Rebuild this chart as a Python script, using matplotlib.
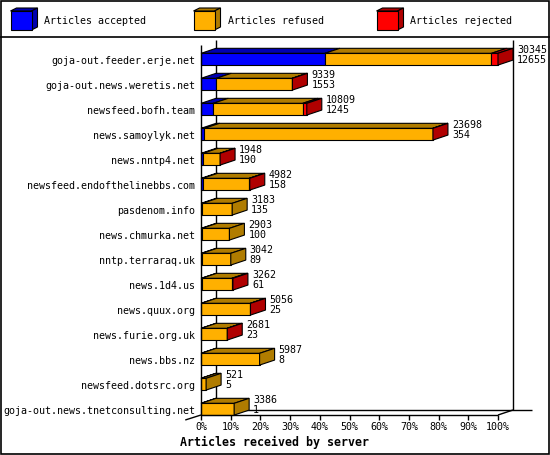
import numpy as np
import matplotlib.pyplot as plt
from matplotlib.patches import Polygon, Rectangle

# Articles per server
servers = ['goja-out.feeder.erje.net', 'goja-out.news.weretis.net', 'newsfeed.bofh.team',
           'news.samoylyk.net', 'news.nntp4.net', 'newsfeed.endofthelinebbs.com',
           'pasdenom.info', 'news.chmurka.net', 'nntp.terraraq.uk', 'news.1d4.us',
           'news.quux.org', 'news.furie.org.uk', 'news.bbs.nz', 'newsfeed.dotsrc.org',
           'goja-out.news.tnetconsulting.net']
offered = np.array([30345, 9339, 10809, 23698, 1948, 4982, 3183, 2903, 3042, 3262,
                    5056, 2681, 5987, 521, 3386])
accepted = np.array([12655, 1553, 1245, 354, 190, 158, 135, 100, 89, 61, 25, 23, 8, 5, 1])
rejected = np.array([670, 30, 410, 20, 10, 60, 0, 0, 0, 120, 15, 10, 0, 0, 0])
refused = offered - accepted - rejected

legend_labels = ['Articles accepted', 'Articles refused', 'Articles rejected']
colors = ['#0000ff', '#ffb000', '#ff0000']
darks = ['#0000b0', '#b07c00', '#b00000']
ticks = np.arange(0, 101, 10)

W, H = 550, 455
fig = plt.figure(figsize=(W / 100, H / 100), dpi=100)
font = 'DejaVu Sans Mono'
fs = 7.2

# pixel overlay for frame and legend
pax = fig.add_axes([0, 0, 1, 1])
pax.set_xlim(0, W)
pax.set_ylim(H, 0)
pax.axis('off')
pax.add_patch(Rectangle((0.5, 0.5), 548, 453, fill=False, ec='black', lw=1.2))
pax.plot([0.5, 548.5], [36.5, 36.5], color='black', lw=1.2)
for k, (lab, c, d) in enumerate(zip(legend_labels, colors, darks)):
    x0 = 10.5 + k * 183
    y0, bw, bh, ddx, ddy = 11, 21, 19, 6, 3
    pax.add_patch(Polygon([(x0, y0), (x0 + bw, y0), (x0 + bw + ddx, y0 - ddy), (x0 + ddx, y0 - ddy)],
                          fc=d, ec='black', lw=0.8))
    pax.add_patch(Polygon([(x0 + bw, y0), (x0 + bw + ddx, y0 - ddy), (x0 + bw + ddx, y0 + bh - ddy),
                           (x0 + bw, y0 + bh)], fc=d, ec='black', lw=0.8))
    pax.add_patch(Rectangle((x0, y0), bw, bh, fc=c, ec='black', lw=0.8))
    pax.text(x0 + 34, 20.5, lab, family=font, fontsize=fs, va='center', ha='left')
pax.text(275, 442, 'Articles received by server', family=font, fontsize=8.4,
         fontweight='bold', ha='center', va='center')

# main chart axes, x in percent of the biggest server
ax = fig.add_axes([201 / W, (H - 415) / H, 297 / W, 370 / H])
ax.set_xlim(0, 100)
ax.set_ylim(14.232, -0.568)
ax.axis('off')

dx = 15 / 297 * 100
dy = -0.2
h = 0.47
ybot = 14.232
lk = dict(color='black', lw=1, clip_on=False, solid_capstyle='butt')

# back wall and floor
ax.plot([dx, dx], [-0.568 + dy, ybot + dy], zorder=1, **lk)
ax.plot([100 + dx, 100 + dx], [-0.568 + dy, ybot + dy], zorder=1, **lk)
ax.plot([dx, 111.3], [ybot + dy, ybot + dy], zorder=1, **lk)
# front axes
ax.plot([0, 0], [-0.568, ybot], zorder=5, **lk)
ax.plot([0, 100], [ybot, ybot], zorder=5, **lk)
ax.plot([100, 100 + dx], [ybot, ybot + dy], zorder=5, **lk)
ax.plot([0, -dx * 1.05], [ybot, ybot - dy], zorder=5, **lk)
for t in ticks:
    ax.plot([t, t], [ybot, ybot - dy], zorder=5, **lk)
    ax.text(t, 14.71, f'{t}%', family=font, fontsize=fs, ha='center', va='center', clip_on=False)

top = offered.max()
for i in range(len(servers)):
    vals = [accepted[i], refused[i], rejected[i]]
    left = 0.0
    last = None
    for v, c, d in zip(vals, colors, darks):
        if v <= 0:
            continue
        w = v / top * 100
        yt = i - h / 2
        ax.add_patch(Polygon([(left, yt), (left + w, yt), (left + w + dx, yt + dy), (left + dx, yt + dy)],
                             fc=d, ec='black', lw=0.8, clip_on=False, zorder=3))
        ax.add_patch(Rectangle((left, yt), w, h, fc=c, ec='black', lw=0.8, clip_on=False, zorder=3))
        left += w
        last = d
    yt = i - h / 2
    ax.add_patch(Polygon([(left, yt), (left + dx, yt + dy), (left + dx, yt + h + dy), (left, yt + h)],
                         fc=last, ec='black', lw=0.8, clip_on=False, zorder=3))
    ax.text(left + dx + 1.35, i - 0.37, str(offered[i]), family=font, fontsize=fs,
            ha='left', va='center', clip_on=False, zorder=6)
    ax.text(left + dx + 1.35, i + 0.045, str(accepted[i]), family=font, fontsize=fs,
            ha='left', va='center', clip_on=False, zorder=6)
    ax.text(-1.9, i + 0.08, servers[i], family=font, fontsize=fs, ha='right', va='center',
            clip_on=False)

fig.savefig('out.png', dpi=100, facecolor='white')
